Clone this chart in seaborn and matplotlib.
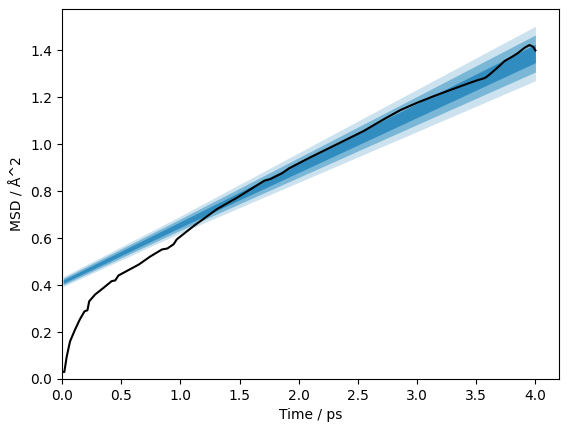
import numpy as np
import pandas as pd
import matplotlib
matplotlib.use("Agg")
import matplotlib.pyplot as plt
import seaborn as sns

time_ps = [0.01, 0.02, 0.04, 0.068, 0.11, 0.15, 0.19, 0.215, 0.23, 0.28,
           0.35, 0.42, 0.45, 0.477, 0.65, 0.746, 0.845, 0.89, 0.943, 0.97,
           1.113, 1.31, 1.48, 1.71, 1.76, 1.86, 1.92, 2.1, 2.33, 2.55,
           2.72, 2.86, 3.0, 3.15, 3.3, 3.43, 3.51, 3.57, 3.6, 3.63,
           3.66, 3.7, 3.74, 3.8, 3.85, 3.91, 3.95, 3.98, 4.0]
msd = [0.03, 0.03, 0.095, 0.16, 0.21, 0.253, 0.288, 0.293, 0.331, 0.36,
       0.388, 0.417, 0.42, 0.441, 0.488, 0.522, 0.552, 0.556, 0.574, 0.595,
       0.652, 0.724, 0.773, 0.845, 0.852, 0.877, 0.898, 0.945, 1.002, 1.057,
       1.107, 1.146, 1.177, 1.207, 1.235, 1.259, 1.273, 1.282, 1.292, 1.305,
       1.318, 1.336, 1.355, 1.372, 1.388, 1.412, 1.423, 1.416, 1.40]

# credible intervals of the fitted model
band_time = [0.01, 1.0, 2.0, 3.0, 4.0]
band_center = [0.415, 0.658, 0.901, 1.144, 1.387]
half_1sig = [0.007, 0.012, 0.021, 0.030, 0.039]
half_2sig = [0.014, 0.024, 0.042, 0.060, 0.079]
half_3sig = [0.021, 0.036, 0.063, 0.090, 0.116]

df = pd.DataFrame({"Time / ps": time_ps, "MSD": msd})

fig, ax = plt.subplots(figsize=(5.67, 4.32), dpi=100)
fig.subplots_adjust(left=0.1093, right=0.9859, bottom=0.1227, top=0.9792)

sns.lineplot(data=df, x="Time / ps", y="MSD", color="k", estimator=None,
             sort=False, ax=ax)

bt = np.array(band_time)
bc = np.array(band_center)
for half, alpha in zip([half_1sig, half_2sig, half_3sig], [0.6, 0.4, 0.2]):
    h = np.array(half)
    ax.fill_between(bt, bc - h, bc + h, color="#0173B2", alpha=alpha, lw=0)

ax.set_ylabel("MSD / Å^2")
ax.set_xlabel("Time / ps")
ax.set_xlim(0, None)
ax.set_ylim(0, None)

fig.savefig("out.png", dpi=100)
